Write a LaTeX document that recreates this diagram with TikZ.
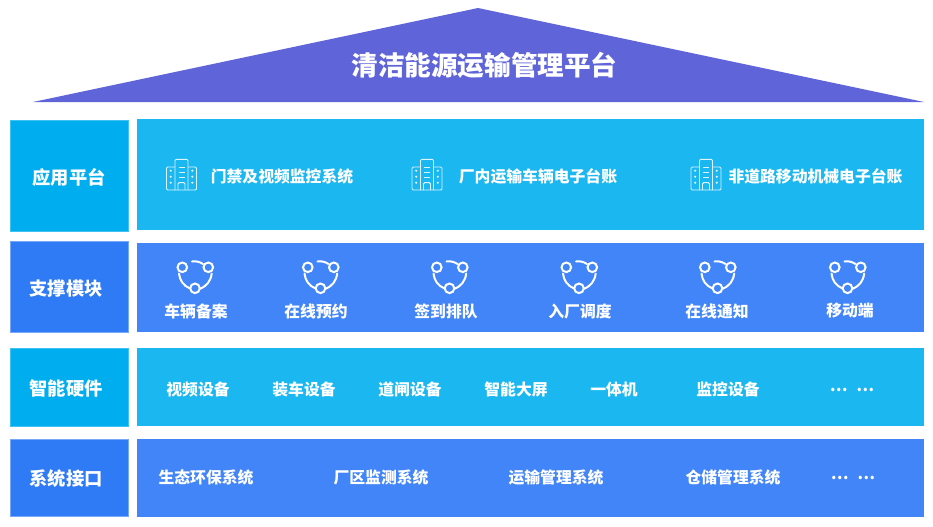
\documentclass[tikz,border=0pt]{standalone}
\usepackage{fontspec}
\setmainfont{Noto Sans CJK SC}
\usepackage{tikz}
\usetikzlibrary{calc,positioning}
\definecolor{RoofFill}{HTML}{5F64D9}
\definecolor{CyanHead}{HTML}{00AEEF}
\definecolor{CyanBand}{HTML}{1AB7F0}
\definecolor{BlueHead}{HTML}{2F7BF6}
\definecolor{BlueBand}{HTML}{4285F8}
\tikzset{
  rooftitle/.style={font=\bfseries\fontsize{22.7pt}{26pt}\selectfont,text=white,inner sep=0pt},
  headlabel/.style={font=\bfseries\fontsize{15.6pt}{18pt}\selectfont,text=white,inner sep=0pt},
  itemlabel/.style={font=\bfseries\fontsize{13.5pt}{16pt}\selectfont,text=white,inner sep=0pt},
  cyanhead/.style={fill=CyanHead,draw=CyanHead!75!white,line width=0.5pt},
  bluehead/.style={fill=BlueHead,draw=BlueHead!65!white,line width=0.5pt},
  iconline/.style={draw=white!85!CyanBand,line width=0.8pt,rounded corners=1pt},
  iconstroke/.style={draw=white,line width=1.7pt,line cap=round},
  pics/buildingicon/.style={code={
    \draw[iconline] (-6.5,15) -- (-6.5,-15.7) -- (6.5,-15.7) -- (6.5,15);
    \draw[iconline] (-6.5,-8) -- (-15,-8) -- (-15,15) -- (15,15) -- (15,-8) -- (6.5,-8);
    \draw[iconline] (-3.5,15) -- (-3.5,7.7) -- (3.5,7.7) -- (3.5,15);
    \draw[iconline] (-3,-8) -- (3,-8) (-3,-3) -- (3,-3) (-3,2) -- (3,2);
    \fill[white!85!CyanBand] (-10.8,-4.3) circle (1.2) (-10.8,1.7) circle (1.2) (-10.8,7.7) circle (1.2)
      (10.8,-4.3) circle (1.2) (10.8,1.7) circle (1.2) (10.8,7.7) circle (1.2);
  }},
  pics/shareicon/.style={code={
    \draw[iconstroke] (-12.7,-6.2) circle (4.8) (13.3,-6.2) circle (4.8) (0,14.8) circle (4.8);
    \draw[iconstroke] (-3,-12) to[bend left=20] (8,-9.5);
    \draw[iconstroke] (-16,0) to[bend right=30] (-5,15);
    \draw[iconstroke] (16.7,0) to[bend left=30] (5,15.3);
  }}
}
\begin{document}
\begin{tikzpicture}[x=0.03cm,y=-0.03cm]
  \useasboundingbox (0,0) rectangle (933,526);
  \fill[RoofFill] (33,102) -- (478,8) -- (924,102) -- cycle;
  \node[rooftitle] (title) at (484.5,65.5) {清洁能源运输管理平台};

  \path[cyanhead] (10,120) rectangle (128,231);
  \fill[CyanBand] (137,119) rectangle (924,230);
  \path[bluehead] (10,241.5) rectangle (128,332.5);
  \fill[BlueBand] (137,243) rectangle (924,332);
  \path[cyanhead] (10,348) rectangle (128,426);
  \fill[CyanBand] (137,348) rectangle (924,426);
  \path[bluehead] (10,439) rectangle (128,516);
  \fill[BlueBand] (137,439) rectangle (924,517);

  \node[headlabel] (platform) at (69,177.5) {应用平台};
  \node[headlabel] (support) at (66,288.5) {支撑模块};
  \node[headlabel] (hardware) at (66,388.5) {智能硬件};
  \node[headlabel] (interface) at (66,478.5) {系统接口};

  \pic at (181.5,175) {buildingicon};
  \pic at (427,175) {buildingicon};
  \pic at (706,175) {buildingicon};
  \node[itemlabel] (gate) at (282,176) {门禁及视频监控系统};
  \node[itemlabel] (ledger) at (538,176) {厂内运输车辆电子台账};
  \node[itemlabel] (machine) at (815.5,176) {非道路移动机械电子台账};

  \pic at (195,273.5) {shareicon};
  \pic at (320.5,273.5) {shareicon};
  \pic at (449.5,273.5) {shareicon};
  \pic at (579,273.5) {shareicon};
  \pic at (717.5,273.5) {shareicon};
  \pic at (847.5,273.5) {shareicon};
  \node[itemlabel] (record) at (196,311) {车辆备案};
  \node[itemlabel] (booking) at (316,311) {在线预约};
  \node[itemlabel] (queue) at (446,311) {签到排队};
  \node[itemlabel] (dispatch) at (580,311) {入厂调度};
  \node[itemlabel] (notice) at (717,311) {在线通知};
  \node[itemlabel] (mobile) at (850,311) {移动端};

  \node[itemlabel] (video) at (198,389) {视频设备};
  \node[itemlabel] (loading) at (304,389) {装车设备};
  \node[itemlabel] (barrier) at (410,389) {道闸设备};
  \node[itemlabel] (screen) at (516,389) {智能大屏};
  \node[itemlabel] (kiosk) at (614,389) {一体机};
  \node[itemlabel] (monitor) at (728,389) {监控设备};
  \node[itemlabel] (moredevices) at (852,390) {…\hspace{0.55em}…};

  \node[itemlabel] (ecology) at (206,477) {生态环保系统};
  \node[itemlabel] (zone) at (381,477) {厂区监测系统};
  \node[itemlabel] (transport) at (556,477) {运输管理系统};
  \node[itemlabel] (storage) at (733,477) {仓储管理系统};
  \node[itemlabel] (moresystems) at (853,478) {…\hspace{0.55em}…};
\end{tikzpicture}
\end{document}
